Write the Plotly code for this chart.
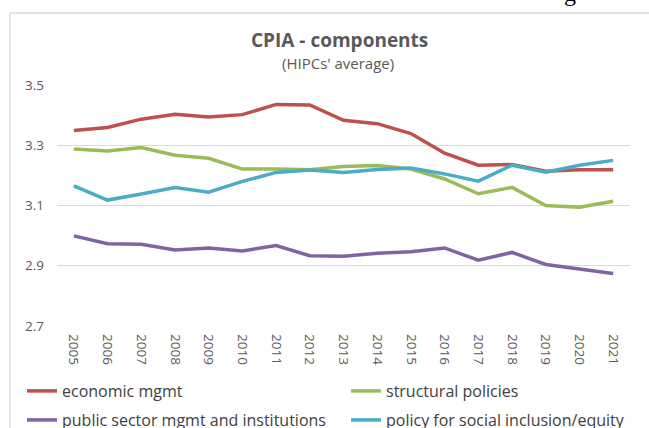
import plotly.graph_objects as go

years = [str(y) for y in range(2005, 2022)]
economic_mgmt = [3.349, 3.359, 3.387, 3.403, 3.394, 3.402, 3.436, 3.434, 3.383, 3.372, 3.339, 3.274, 3.234, 3.236, 3.214, 3.219, 3.219]
structural_policies = [3.288, 3.281, 3.293, 3.267, 3.257, 3.221, 3.221, 3.219, 3.230, 3.233, 3.221, 3.188, 3.139, 3.160, 3.100, 3.094, 3.114]
public_sector = [2.999, 2.973, 2.971, 2.952, 2.959, 2.949, 2.967, 2.933, 2.931, 2.941, 2.946, 2.959, 2.918, 2.944, 2.904, 2.889, 2.874]
social_inclusion = [3.165, 3.118, 3.138, 3.160, 3.144, 3.180, 3.210, 3.218, 3.210, 3.220, 3.225, 3.205, 3.181, 3.234, 3.211, 3.234, 3.250]

series_names = ["economic mgmt", "structural policies",
                "public sector mgmt and institutions", "policy for social inclusion/equity"]
colors = ["#C0504D", "#9BBB59", "#8064A2", "#4BACC6"]
legend_ids = ["legend", "legend2", "legend3", "legend4"]
y_ticks = [2.7, 2.9, 3.1, 3.3, 3.5]

W, H = 649, 428
L, R, T, B = 57, 19, 85, 102
pw, ph = W - L - R, H - T - B

def px_x(x):
    return (x - L) / pw

def px_y(y):
    return (H - B - y) / ph

def cx(x):
    return x / W

def cy(y):
    return 1 - y / H

FONT = "Open Sans"
fig = go.Figure()
for name, vals, col, lg in zip(series_names,
                               [economic_mgmt, structural_policies, public_sector, social_inclusion],
                               colors, legend_ids):
    fig.add_trace(go.Scatter(x=years, y=vals, mode="lines", name=name,
                             line=dict(color=col, width=3.5), legend=lg))

legend_common = dict(orientation="h", xanchor="left", yanchor="middle",
                     xref="container", yref="container",
                     font=dict(family=FONT, size=16, color="#404040"),
                     bgcolor="rgba(0,0,0,0)", itemclick=False, borderwidth=0)

fig.update_layout(
    width=W, height=H,
    margin=dict(l=L, r=R, t=T, b=B),
    paper_bgcolor="white", plot_bgcolor="white",
    font=dict(family=FONT, color="#595959"),
    showlegend=True,
    legend=dict(x=cx(22), y=cy(391), **legend_common),
    legend2=dict(x=cx(346), y=cy(391), **legend_common),
    legend3=dict(x=cx(22), y=cy(420), **legend_common),
    legend4=dict(x=cx(346), y=cy(420), **legend_common),
    xaxis=dict(type="category", range=[-0.5, 16.5], tickangle=90,
               tickfont=dict(family=FONT, size=13.5, color="#595959"),
               showgrid=False, showline=False, ticks="", ticklabelstandoff=7,
               automargin=False),
    yaxis=dict(range=[2.6995, 3.5005], tickvals=y_ticks, ticktext=[f"{v:.1f}" for v in y_ticks],
               tickfont=dict(family=FONT, size=13.5, color="#595959"),
               showgrid=True, gridcolor="#D9D9D9", gridwidth=1.3,
               zeroline=False, showline=False, ticks="", ticklabelstandoff=12,
               automargin=False),
    shapes=[dict(type="rect", xref="paper", yref="paper",
                 x0=px_x(10), x1=px_x(700), y0=px_y(500), y1=px_y(13),
                 line=dict(color="#D9D9D9", width=1.3), fillcolor="rgba(0,0,0,0)", layer="below")],
    annotations=[
        dict(text="<b>CPIA - components</b>", xref="paper", yref="paper",
             x=px_x(339), y=px_y(40), xanchor="center", yanchor="middle", showarrow=False,
             font=dict(family=FONT, size=19, color="#595959")),
        dict(text="(HIPCs' average)", xref="paper", yref="paper",
             x=px_x(338), y=px_y(63), xanchor="center", yanchor="middle", showarrow=False,
             font=dict(family=FONT, size=15, color="#595959")),
        dict(text="g", xref="paper", yref="paper",
             x=px_x(570), y=px_y(8), xanchor="center", yanchor="bottom", showarrow=False,
             font=dict(family="Liberation Serif", size=24, color="#000000")),
    ],
)

fig.write_html("out.html", config={"displayModeBar": False},
               post_script="document.body.style.margin='0px';document.body.style.overflow='hidden';")
